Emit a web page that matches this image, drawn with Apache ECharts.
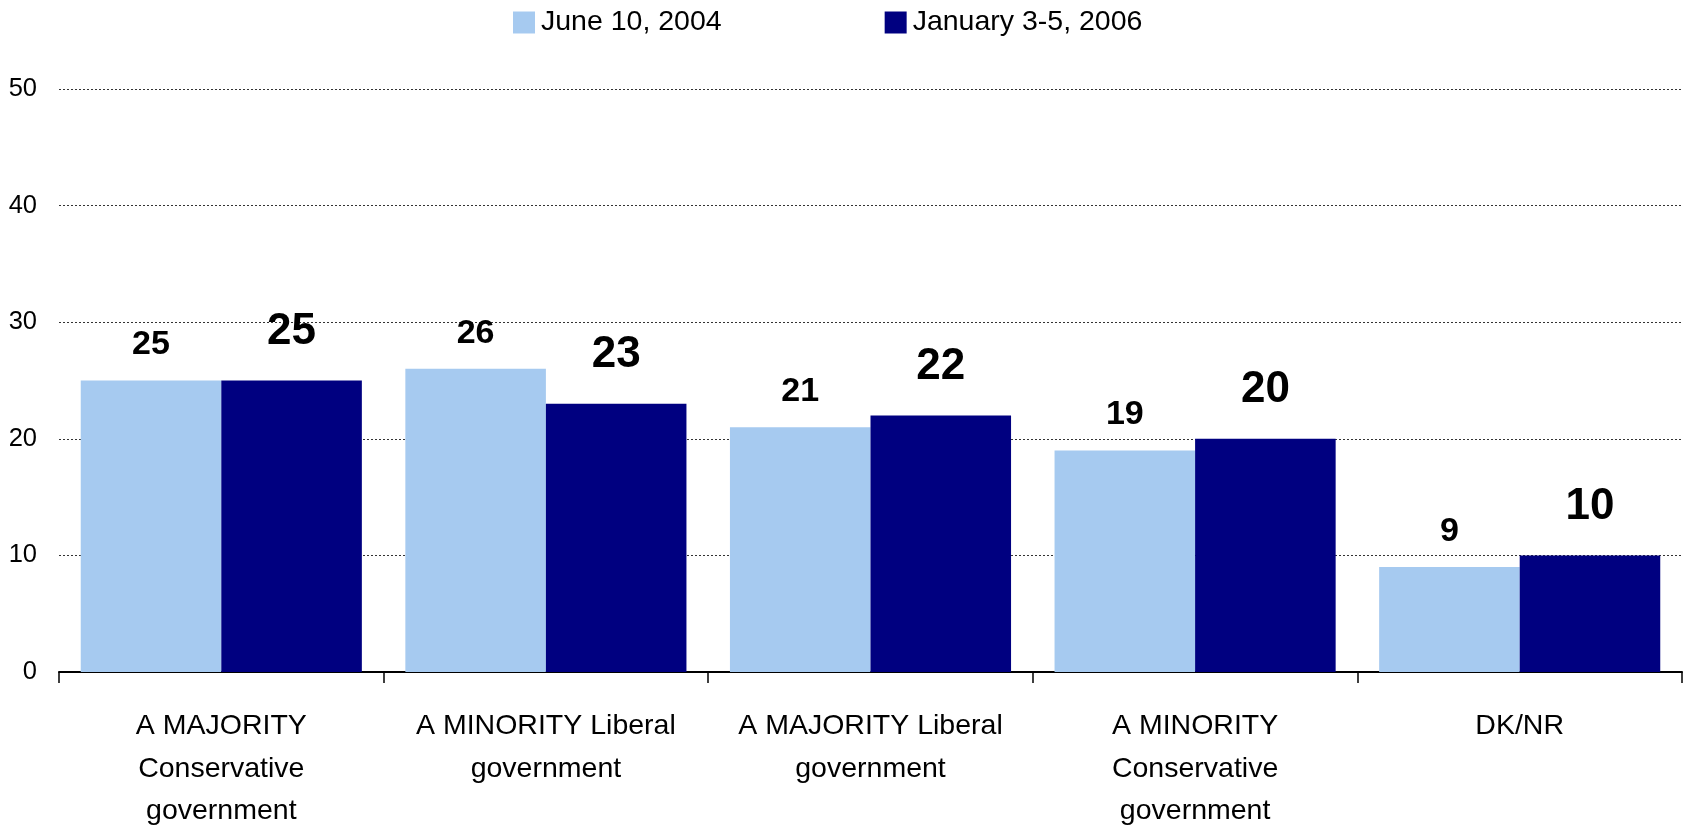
<!DOCTYPE html>
<html>
<head>
<meta charset="utf-8">
<script src="https://cdn.jsdelivr.net/npm/echarts@6/dist/echarts.min.js"></script>
<style>
html,body{margin:0;padding:0;background:#fff;}
#chart{width:1684px;height:826px;}
</style>
</head>
<body>
<div id="chart"></div>
<script>
const categories = [
  "A MAJORITY\nConservative\ngovernment",
  "A MINORITY Liberal\ngovernment",
  "A MAJORITY Liberal\ngovernment",
  "A MINORITY\nConservative\ngovernment",
  "DK/NR"
];
const seriesNames = ["June 10, 2004", "January 3-5, 2006"];
const june2004 = [25, 26, 21, 19, 9];
const jan2006 = [25, 23, 22, 20, 10];
const yTicks = { min: 0, max: 50, interval: 10 };

const FONT = "'Liberation Sans', Arial, sans-serif";
const chart = echarts.init(document.getElementById('chart'), null, { renderer: 'canvas' });
chart.setOption({
  backgroundColor: '#ffffff',
  animation: false,
  textStyle: { fontFamily: FONT, color: '#000' },
  legend: {
    left: 508,
    top: 3,
    itemWidth: 22,
    itemHeight: 22,
    itemGap: 163,
    icon: 'rect',
    textStyle: { fontFamily: FONT, fontSize: 28.5, color: '#000', padding: [0, 0, 0, 1] },
    data: seriesNames
  },
  grid: { left: 59, right: 2, top: 89, bottom: 154, containLabel: false, outerBoundsMode: 'none' },
  xAxis: {
    type: 'category',
    data: categories,
    axisLine: { show: true, lineStyle: { color: '#000', width: 2 } },
    axisTick: { show: true, length: 11, lineStyle: { color: '#000', width: 1.5 } },
    axisLabel: {
      fontFamily: FONT, fontSize: 28.5, color: '#000', lineHeight: 42.5,
      margin: 33, interval: 0
    }
  },
  yAxis: {
    type: 'value',
    min: yTicks.min, max: yTicks.max, interval: yTicks.interval,
    axisLine: { show: false },
    axisTick: { show: false },
    axisLabel: { fontFamily: FONT, fontSize: 25.5, color: '#000', margin: 22 },
    splitLine: { show: true, lineStyle: { color: '#333', type: [2, 2], width: 1 } }
  },
  series: [
    {
      name: seriesNames[0], type: 'bar', data: june2004,
      barGap: '0%', barCategoryGap: '13.4%',
      itemStyle: { color: '#A6CAF0' },
      label: {
        show: true, position: 'top', distance: 18.5,
        fontFamily: FONT, fontSize: 34, fontWeight: 'bold', color: '#000', lineHeight: 34
      }
    },
    {
      name: seriesNames[1], type: 'bar', data: jan2006,
      barGap: '0%', barCategoryGap: '13.4%',
      itemStyle: { color: '#000080' },
      label: {
        show: true, position: 'top', distance: 27,
        fontFamily: FONT, fontSize: 44, fontWeight: 'bold', color: '#000', lineHeight: 44
      }
    }
  ]
});
</script>
</body>
</html>
